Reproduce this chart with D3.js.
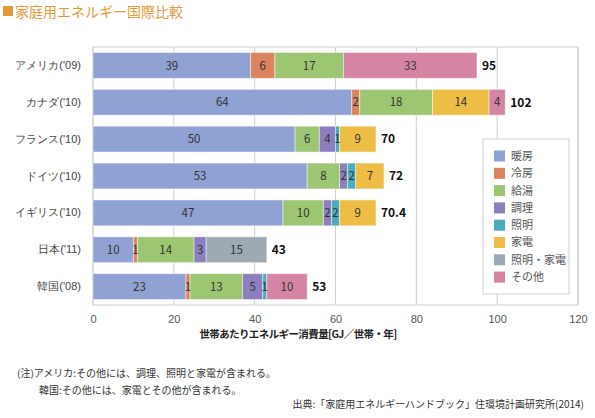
<!DOCTYPE html>
<html><head><meta charset="utf-8">
<script src="https://cdn.jsdelivr.net/npm/d3@7"></script>
<style>
body{margin:0;background:#fff;}
svg{display:block;font-family:"Noto Sans CJK JP","Noto Sans",sans-serif;}
</style></head>
<body><svg id="c" width="595" height="418"></svg>
<script>
const countries = ["アメリカ('09)","カナダ('10)","フランス('10)","ドイツ('10)","イギリス('10)","日本('11)","韓国('08)"];
const seriesNames = ["暖房","冷房","給湯","調理","照明","家電","照明・家電","その他"];
const colors = ["#8FA2D3","#DC845E","#9CC672","#8B7FBD","#4BADB9","#EDBD46","#9DA9B3","#D684A4"];
const heating   = [39,64,50,53,47,10,23];
const cooling   = [6,2,0,0,0,1,1];
const hotWater  = [17,18,6,8,10,14,13];
const cooking   = [0,0,4,2,2,3,5];
const lighting  = [0,0,1,2,2,0,1];
const appliance = [0,14,9,7,9,0,0];
const lightAppl = [0,0,0,0,0,15,0];
const other     = [33,4,0,0,0,0,10];
const totals    = ["95","102","70","72","70.4","43","53"];
const xTicks    = [0,20,40,60,80,100,120];

const seriesValues = [heating,cooling,hotWater,cooking,lighting,appliance,lightAppl,other];
const svg = d3.select("#c");
const L=93,R=578,T=47,B=305;
const x = d3.scaleLinear().domain([0,120]).range([L,R]);
const y = d3.scaleBand().domain(countries).range([T,B]).paddingInner(0.3).paddingOuter(0.15);

// title
svg.append("rect").attr("x",3).attr("y",6).attr("width",10).attr("height",10).attr("fill","#E39A3B");
svg.append("text").attr("x",15).attr("y",17).attr("font-size",14).attr("fill","#E39A3B").text("家庭用エネルギー国際比較");

// grid
svg.append("g").selectAll("line").data(xTicks).join("line")
  .attr("x1",d=>x(d)).attr("x2",d=>x(d)).attr("y1",T).attr("y2",B)
  .attr("stroke","#cfcfcf").attr("stroke-width",1);
svg.append("rect").attr("x",L).attr("y",T).attr("width",R-L).attr("height",B-T)
  .attr("fill","none").attr("stroke","#cfcfcf");

// x axis labels
const xa = svg.append("g").attr("transform",`translate(0,${B})`)
  .call(d3.axisBottom(x).tickValues(xTicks).tickSize(0).tickPadding(10));
xa.select(".domain").remove();
xa.selectAll("text").attr("font-size",11).attr("fill","#555").attr("font-family","inherit");

// y axis labels
const ya = svg.append("g").attr("transform",`translate(${L},0)`)
  .call(d3.axisLeft(y).tickSize(0).tickPadding(12));
ya.select(".domain").remove();
ya.selectAll("text").attr("font-size",11).attr("fill","#444").attr("font-family","inherit");

// stacked data
const rows = countries.map((c,i)=>{const o={country:c};seriesNames.forEach((s,j)=>o[s]=seriesValues[j][i]);return o;});
const stack = d3.stack().keys(seriesNames)(rows);

const g = svg.append("g");
stack.forEach((layer,j)=>{
  g.append("g").selectAll("rect").data(layer.filter(d=>d[1]-d[0]>0)).join("rect")
    .attr("x",d=>x(d[0])).attr("width",d=>x(d[1])-x(d[0]))
    .attr("y",d=>y(d.data.country)).attr("height",y.bandwidth())
    .attr("fill",colors[j]).attr("stroke","rgba(255,255,255,0.45)").attr("stroke-width",1);
});
stack.forEach((layer,j)=>{
  g.append("g").selectAll("text").data(layer.filter(d=>d[1]-d[0]>0)).join("text")
    .attr("x",d=>(x(d[0])+x(d[1]))/2).attr("y",d=>y(d.data.country)+y.bandwidth()/2)
    .attr("dy","0.36em").attr("text-anchor","middle").attr("font-size",11.5).attr("fill","#333")
    .text(d=>d[1]-d[0]);
});
// totals
const last = stack[stack.length-1];
svg.append("g").selectAll("text").data(last).join("text")
  .attr("x",d=>x(d[1])+5).attr("y",d=>y(d.data.country)+y.bandwidth()/2)
  .attr("dy","0.36em").attr("font-size",12).attr("font-weight","bold").attr("fill","#111")
  .text((d,i)=>totals[i]);

// legend
const lgx=483, lgy=139;
svg.append("rect").attr("x",lgx).attr("y",lgy).attr("width",86).attr("height",155)
  .attr("fill","#fff").attr("stroke","#cfcfcf");
const li = svg.append("g").selectAll("g").data(seriesNames).join("g")
  .attr("transform",(d,i)=>`translate(${lgx+11},${156+i*17.3})`);
li.append("rect").attr("x",0).attr("y",-5.5).attr("width",11).attr("height",11).attr("fill",(d,i)=>colors[i]);
li.append("text").attr("x",17).attr("dy","0.36em").attr("font-size",11).attr("fill","#555").text(d=>d);

// axis title
svg.append("text").attr("x",298).attr("y",338).attr("text-anchor","middle").attr("font-size",10.5)
  .attr("letter-spacing",-0.6).attr("font-weight","bold").attr("fill","#222").text("世帯あたりエネルギー消費量[GJ／世帯・年]");

// notes
svg.append("text").attr("x",17).attr("y",377).attr("font-size",10).attr("fill","#333").text("(注)アメリカ:その他には、調理、照明と家電が含まれる。");
svg.append("text").attr("x",39).attr("y",394).attr("font-size",10).attr("fill","#333").text("韓国:その他には、家電とその他が含まれる。");
svg.append("text").attr("x",584).attr("y",408).attr("text-anchor","end").attr("font-size",10).attr("fill","#333").text("出典:「家庭用エネルギーハンドブック」住環境計画研究所(2014)");
</script></body></html>
